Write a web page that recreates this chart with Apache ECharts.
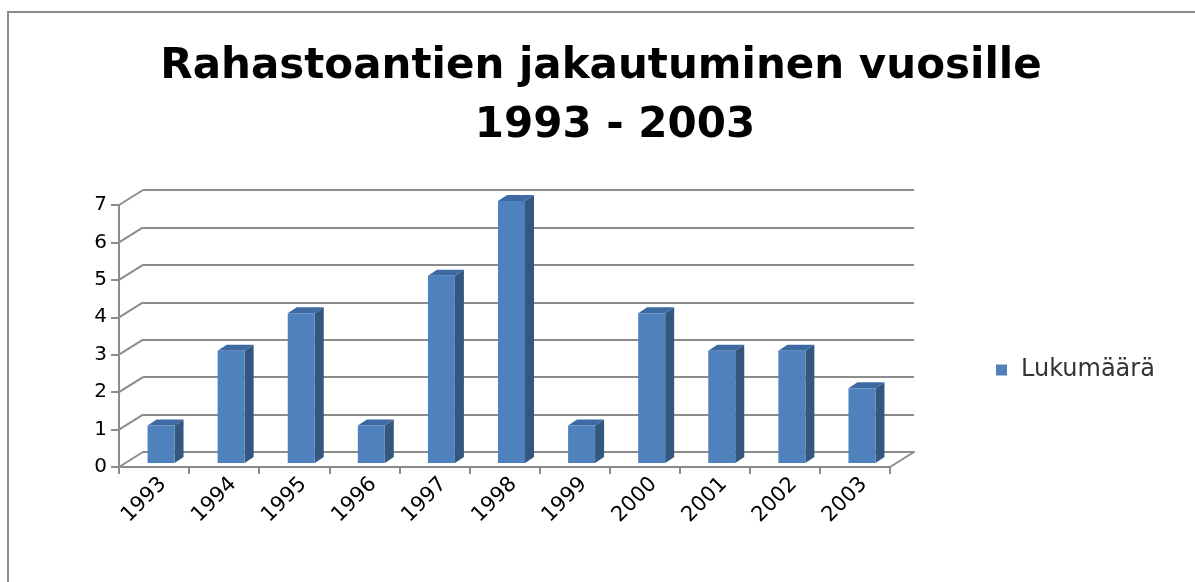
<!DOCTYPE html>
<html><head><meta charset="utf-8">
<script src="https://cdn.jsdelivr.net/npm/echarts@6/dist/echarts.min.js"></script>
<style>html,body{margin:0;padding:0;background:#fff}#c{width:1195px;height:582px}</style>
</head><body><div id="c"></div>
<script>
const categories = ['1993','1994','1995','1996','1997','1998','1999','2000','2001','2002','2003'];
const values = [1,3,4,1,5,7,1,4,3,3,2];
const yTicks = [0,1,2,3,4,5,6,7];
const seriesName = 'Lukumäärä';
const titleLine1 = 'Rahastoantien jakautuminen vuosille';
const titleLine2 = '1993 - 2003';

const DX = 24, DY = -15;          // depth of the 3D box
const FRONT = {left:119, top:205, width:771, height:262};
const gridColor = '#8C8C8C';
const FONT = 'DejaVu Sans';
const chart = echarts.init(document.getElementById('c'));

const option = {
  animation:false,
  backgroundColor:'#fff',
  graphic:[{type:'rect', shape:{x:8,y:12,width:1200,height:600}, style:{fill:'none', stroke:'#8C8C8C', lineWidth:2}, silent:true}],
  title:[
    {text:titleLine1, left:596, top:41, textAlign:'center', textStyle:{fontFamily:FONT, fontWeight:'bold', fontSize:42, color:'#000'}},
    {text:titleLine2, left:610, top:100, textAlign:'center', textStyle:{fontFamily:FONT, fontWeight:'bold', fontSize:42, color:'#000'}}
  ],
  legend:{data:[seriesName], orient:'vertical', left:991, top:353, icon:'rect', itemWidth:11, itemHeight:11, itemGap:6,
    textStyle:{fontFamily:FONT, fontSize:24, color:'#333', padding:[0,0,0,9]}},
  grid:[
    {left:FRONT.left, top:FRONT.top, width:FRONT.width, height:FRONT.height},
    {left:FRONT.left+DX, top:FRONT.top+DY, width:FRONT.width, height:FRONT.height},
    {left:FRONT.left+9, top:FRONT.top, width:FRONT.width, height:FRONT.height}
  ],
  xAxis:[
    {type:'category', data:categories, gridIndex:0,
      axisLine:{show:true, lineStyle:{color:gridColor, width:2}},
      axisTick:{show:true, length:7, lineStyle:{color:gridColor, width:2}},
      axisLabel:{show:false}},
    {type:'category', data:categories, gridIndex:1,
      axisLine:{show:true, lineStyle:{color:gridColor, width:2}}, axisTick:{show:false}, axisLabel:{show:false}},
    {type:'category', data:categories, gridIndex:2,
      axisLine:{show:false}, axisTick:{show:false},
      axisLabel:{rotate:45, fontFamily:FONT, fontSize:21, color:'#000', margin:14}}
  ],
  yAxis:[
    {type:'value', gridIndex:0, min:0, max:7, interval:1,
      axisLine:{show:true, lineStyle:{color:gridColor, width:2}},
      axisTick:{show:true, length:8, lineStyle:{color:gridColor, width:2}},
      splitLine:{show:false},
      axisLabel:{fontFamily:FONT, fontSize:20, color:'#000', margin:12}},
    {type:'value', gridIndex:1, min:0, max:7, interval:1,
      axisLine:{show:false}, axisTick:{show:false}, axisLabel:{show:false},
      splitLine:{show:true, lineStyle:{color:gridColor, width:2}}},
    {type:'value', gridIndex:2, min:0, max:7, interval:1, show:false, splitLine:{show:false}}
  ],
  series:[
    { // diagonal connectors from front axis to back wall
      type:'custom', xAxisIndex:0, yAxisIndex:0, silent:true, legendHoverLink:false,
      data:yTicks.map(v=>[0,v]),
      renderItem:function(params, api){
        const cs = params.coordSys;
        const p = api.coord([0, api.value(1)]);
        const children = [{type:'line', shape:{x1:cs.x, y1:p[1], x2:cs.x+DX, y2:p[1]+DY}, style:{stroke:gridColor, lineWidth:2}}];
        if (api.value(1) === 0) {
          children.push({type:'line', shape:{x1:cs.x+cs.width, y1:p[1], x2:cs.x+cs.width+DX, y2:p[1]+DY}, style:{stroke:gridColor, lineWidth:2}});
        }
        return {type:'group', children:children};
      }
    },
    {
      name:seriesName, type:'custom', xAxisIndex:0, yAxisIndex:0,
      itemStyle:{color:'#4F81BD'},
      data:values.map((v,i)=>[i,v]),
      renderItem:function(params, api){
        const base = api.coord([api.value(0), 0]);
        const top = api.coord([api.value(0), api.value(1)]);
        const ox = 7, oy = -4, w = 27, dx = 9, dy = -6;
        const xl = base[0] + ox - w/2, xr = xl + w;
        const yb = base[1] + oy, yt = top[1] + oy;
        return {type:'group', children:[
          {type:'polygon', shape:{points:[[xr,yt],[xr+dx,yt+dy],[xr+dx,yb+dy],[xr,yb]]}, style:{fill:'#34577F'}},
          {type:'polygon', shape:{points:[[xl,yt],[xl+dx,yt+dy],[xr+dx,yt+dy],[xr,yt]]}, style:{fill:'#3E6AA3'}},
          {type:'rect', shape:{x:xl, y:yt, width:w, height:yb-yt}, style:{fill:'#4F81BD'}}
        ]};
      }
    }
  ]
};
chart.setOption(option);
</script></body></html>
